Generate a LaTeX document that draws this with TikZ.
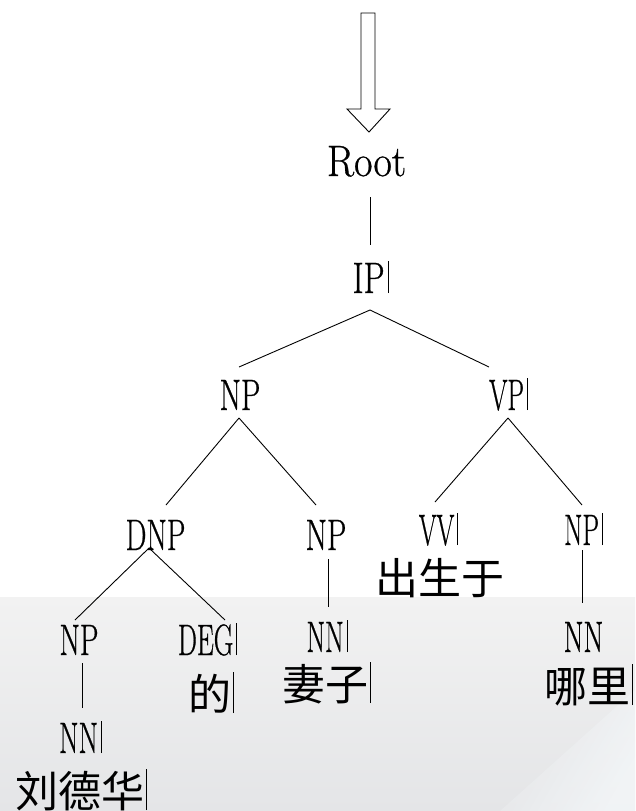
\documentclass[tikz,border=0pt]{standalone}
\usepackage{fontspec}
\usepackage{graphicx}
\newfontfamily\cjk{Noto Sans CJK SC}
\newfontfamily\labfont{Latin Modern Roman}[FakeBold=0.7]
\usetikzlibrary{calc}
\definecolor{slidetop}{HTML}{F2F2F2}
\definecolor{slidebot}{HTML}{E4E5E7}
\definecolor{streak}{HTML}{F4F7F9}
% condensed label text, optionally followed by a thin cursor bar
\newcommand\cond[2]{\scalebox{#1}[1]{#2}}
\newcommand\cbar{\kern3pt\rule{0.8pt}{32pt}}
\newcommand\zhbar{\kern1pt\rule[-3pt]{0.8pt}{41pt}}
\begin{document}
\begin{tikzpicture}[x=1pt,y=-1pt,
  lab/.style={inner sep=0pt,anchor=base,font=\labfont\fontsize{44}{44}\selectfont},
  hanzi/.style={inner sep=0pt,anchor=base,font=\cjk\fontsize{43}{43}\selectfont},
  edge/.style={line width=0.9pt}]
\useasboundingbox (0,0) rectangle (635,811);
\fill[white] (0,0) rectangle (635,811);
% light slide background in the lower part
\shade[top color=slidetop,bottom color=slidebot] (0,597) rectangle (635,811);
\shade[left color=slidebot,right color=streak,shading angle=60,opacity=0.8]
  (500,811) -- (635,690) -- (635,811) -- cycle;

% hollow arrow pointing at the root
\draw[line width=0.9pt,fill=white] (361,13) -- (375,13) -- (375,109) -- (390,109)
  -- (369,132) -- (347,109) -- (361,109) -- cycle;

% tree labels
\node[lab] (root) at (366.5,176) {\cond{0.91}{Root}};
\node[lab] (ip)   at (370.5,293) {\cond{0.76}{IP}\cbar};
\node[lab] (np1)  at (240,410)   {\cond{0.70}{NP}};
\node[lab] (vp)   at (508.5,410) {\cond{0.60}{VP}\cbar};
\node[lab] (dnp)  at (155.5,550) {\cond{0.67}{DNP}};
\node[lab] (np2)  at (326,550)   {\cond{0.70}{NP}};
\node[lab] (vv)   at (438.5,545) {\cond{0.58}{VV}\cbar};
\node[lab] (np3)  at (583.5,545) {\cond{0.60}{NP}\cbar};
\node[lab] (np4)  at (79,655)    {\cond{0.67}{NP}};
\node[lab] (deg)  at (207.5,655) {\cond{0.61}{DEG}\cbar};
\node[lab] (nn1)  at (80.5,753)  {\cond{0.64}{NN}\cbar};
\node[lab] (nn2)  at (327,652)   {\cond{0.61}{NN}\cbar};
\node[lab] (nn3)  at (583.5,652) {\cond{0.65}{NN}};

\node[hanzi] (chu) at (440,594)   {出生于};
\node[hanzi] (de)  at (211,710)   {的\zhbar};
\node[hanzi] (liu) at (81,807)    {刘德华\zhbar};
\node[hanzi] (qi)  at (326.5,700) {妻子\zhbar};
\node[hanzi] (na)  at (588.5,702) {哪里\zhbar};

% branches
\draw[edge] ($(root.base)+(3.5,21)$) -- ($(ip.base)+(-0.5,-48)$);
\draw[edge] ($(ip.base)+(-0.5,17)$) -- ($(np1.base)+(-1,-43)$);
\draw[edge] ($(ip.base)+(-0.5,17)$) -- ($(vp.base)+(-19.5,-43)$);
\draw[edge] ($(np1.base)+(-1,8)$) -- ($(dnp.base)+(10.5,-45)$);
\draw[edge] ($(np1.base)+(-1,8)$) -- ($(np2.base)+(-10,-45)$);
\draw[edge] ($(vp.base)+(-0.5,8)$) -- ($(vv.base)+(-3.5,-43)$);
\draw[edge] ($(vp.base)+(-0.5,8)$) -- ($(np3.base)+(-1.5,-40)$);
\draw[edge] ($(dnp.base)+(-6.5,-2)$) -- ($(np4.base)+(-4,-35)$);
\draw[edge] ($(dnp.base)+(-6.5,-2)$) -- ($(deg.base)+(17.5,-35)$);
\draw[edge] ($(np2.base)+(2,9)$) -- ($(nn2.base)+(1,-45)$);
\draw[edge] ($(np3.base)+(-1.5,5)$) -- ($(nn3.base)+(-1.5,-49)$);
\draw[edge] ($(np4.base)+(3,8)$) -- ($(nn1.base)+(1.5,-45)$);
\end{tikzpicture}
\end{document}
